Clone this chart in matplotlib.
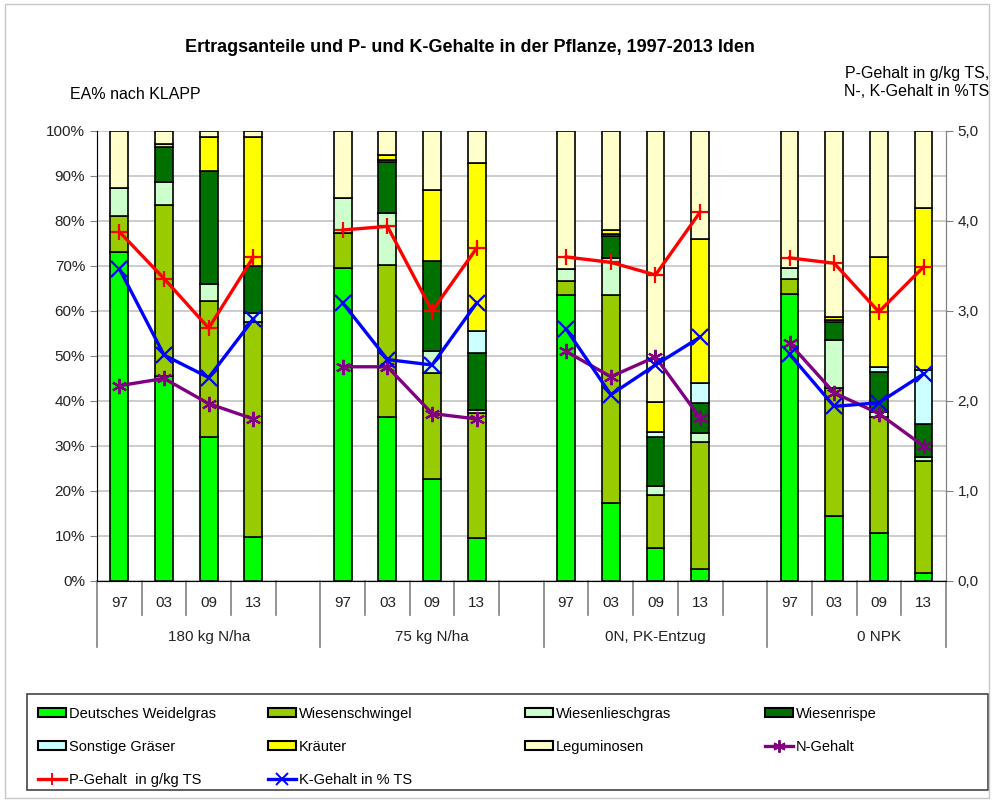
import numpy as np
import matplotlib.pyplot as plt
from matplotlib.patches import Rectangle
from matplotlib.lines import Line2D

plt.rcParams['font.family'] = ['Liberation Sans', 'DejaVu Sans']

# groups and years on the category axis
groups = ['180 kg N/ha', '75 kg N/ha', '0N, PK-Entzug', '0 NPK']
years = ['97', '03', '09', '13']

# yield shares in % (EA nach KLAPP), 16 bars: group by group, year by year
weidelgras = [73.0, 45.5, 32.0, 9.7, 69.5, 36.5, 22.6, 9.6, 63.6, 17.4, 7.4, 2.7, 63.8, 14.4, 10.6, 1.7]
schwingel = [8.0, 38.1, 30.2, 47.9, 7.9, 33.7, 23.7, 27.8, 3.1, 46.2, 11.7, 28.1, 3.2, 28.4, 25.9, 25.0]
lieschgras = [6.4, 5.1, 3.9, 1.9, 7.6, 11.6, 4.7, 0.6, 2.6, 8.1, 2.0, 2.0, 2.5, 10.8, 1.0, 0.8]
rispe = [0.0, 7.8, 24.9, 10.5, 0.0, 11.2, 20.1, 12.7, 0.0, 5.0, 11.0, 6.8, 0.0, 4.0, 9.0, 7.4]
sonstige = [0.0, 0.0, 0.0, 0.0, 0.0, 0.5, 0.0, 4.9, 0.0, 0.3, 0.9, 4.3, 0.0, 0.3, 1.0, 12.0]
kraeuter = [0.0, 0.5, 7.7, 28.7, 0.0, 1.2, 15.8, 37.2, 0.0, 1.0, 6.8, 32.0, 0.0, 0.8, 24.6, 35.9]
legumin = [12.6, 3.0, 1.3, 1.3, 15.0, 5.3, 13.1, 7.2, 30.7, 22.0, 60.2, 24.1, 30.5, 41.3, 27.9, 17.2]

# contents (right axis)
p_gehalt = [3.88, 3.36, 2.81, 3.60, 3.90, 3.94, 3.00, 3.70, 3.60, 3.54, 3.40, 4.10, 3.59, 3.53, 2.99, 3.49]
k_gehalt = [3.47, 2.51, 2.26, 2.91, 3.09, 2.46, 2.40, 3.09, 2.80, 2.07, 2.40, 2.71, 2.52, 1.94, 1.98, 2.30]
n_gehalt = [2.17, 2.25, 1.97, 1.80, 2.38, 2.38, 1.86, 1.80, 2.55, 2.27, 2.49, 1.81, 2.64, 2.09, 1.86, 1.50]

species = [
    ('Deutsches Weidelgras', weidelgras, '#00ff00'),
    ('Wiesenschwingel', schwingel, '#99cc00'),
    ('Wiesenlieschgras', lieschgras, '#ccffcc'),
    ('Wiesenrispe', rispe, '#007000'),
    ('Sonstige Gräser', sonstige, '#ccffff'),
    ('Kräuter', kraeuter, '#ffff00'),
    ('Leguminosen', legumin, '#ffffcc'),
]

# slot positions: 5 slots per group (4 bars + 1 empty)
x = np.array([g * 5 + b for g in range(len(groups)) for b in range(len(years))])

fig = plt.figure(figsize=(9.94, 8.02), dpi=100)
ax = fig.add_axes([0.0976, 0.2756, 0.854, 0.5611])

bottom = np.zeros(len(x))
for name, vals, col in species:
    ax.bar(x, vals, width=0.4, bottom=bottom, color=col, edgecolor='black', lw=1.2, zorder=2)
    bottom += np.array(vals)

ax.set_xlim(-0.5, 18.5)
ax.set_ylim(0, 100)
ax.set_yticks(np.arange(0, 101, 10))
ax.set_yticklabels([f'{v}%' for v in range(0, 101, 10)], fontsize=11)
ax.yaxis.grid(True, color='#c4c4c4', lw=1.2, zorder=0)
ax.set_axisbelow(True)
ax.set_xticks([])
ax.spines['top'].set_visible(False)
for s in ['left', 'right', 'bottom']:
    ax.spines[s].set_color('#808080')
ax.tick_params(axis='y', colors='#808080', labelcolor='#222222', length=5)

ax2 = ax.twinx()
ax2.set_ylim(0, 5)
ax2.set_yticks(np.arange(0, 5.01, 1))
ax2.set_yticklabels([f'{v:.1f}'.replace('.', ',') for v in np.arange(0, 5.01, 1)], fontsize=11)
ax2.tick_params(axis='y', colors='#808080', labelcolor='#222222', length=5)
ax2.spines['top'].set_visible(False)
ax2.spines['right'].set_color('#808080')

line_specs = [
    ('N-Gehalt', n_gehalt, '#800080', (6, 2, 0)),
    ('P-Gehalt  in g/kg TS', p_gehalt, '#ff0000', '+'),
    ('K-Gehalt in % TS', k_gehalt, '#0000ff', 'x'),
]
for name, vals, col, mk in line_specs:
    for g in range(len(groups)):
        sl = slice(g * 4, g * 4 + 4)
        ax2.plot(x[sl], vals[sl], color=col, lw=2.4, marker=mk, ms=11, mew=1.6, zorder=3)

# category axis below the plot
tr = ax.get_xaxis_transform()
for k in range(19):
    g, b = divmod(k, 5)
    if b < 4:
        ax.text(k, -0.049, years[b], transform=tr, ha='center', va='center', fontsize=11, color='#222222')
for k in range(1, 19):
    if k % 5 != 0:
        ax.plot([k - 0.5, k - 0.5], [0, -0.075], transform=tr, color='#808080', lw=1.2, clip_on=False)
for xe in [-0.5, 4.5, 9.5, 14.5, 18.5]:
    ax.plot([xe, xe], [0, -0.147], transform=tr, color='#808080', lw=1.2, clip_on=False)
for g, name in enumerate(groups):
    ax.text(g * 5 + 2.0, -0.124, name, transform=tr, ha='center', va='center', fontsize=11, color='#222222')

fig.text(0.473, 0.941, 'Ertragsanteile und P- und K-Gehalte in der Pflanze, 1997-2013 Iden',
         ha='center', va='center', fontsize=13, fontweight='bold')
fig.text(0.07, 0.882, 'EA% nach KLAPP', ha='left', va='center', fontsize=11.5)
fig.text(0.995, 0.897, 'P-Gehalt in g/kg TS,\nN-, K-Gehalt in %TS', ha='right', va='center',
         fontsize=11.5, linespacing=1.25)

# legend: frame drawn separately, four single-column legends
fig.patches.append(Rectangle((27 / 994, 12 / 802), 961 / 994, 96 / 802, transform=fig.transFigure,
                             fill=False, edgecolor='#444444', lw=1.2))
handles = {}
for name, vals, col in species:
    handles[name] = Rectangle((0, 0), 1, 1, facecolor=col, edgecolor='black', lw=1.5)
for name, vals, col, mk in line_specs:
    handles[name] = Line2D([], [], color=col, lw=2.4, marker=mk, ms=9, mew=1.4)
columns = [
    (38, ['Deutsches Weidelgras', 'Sonstige Gräser', 'P-Gehalt  in g/kg TS']),
    (268, ['Wiesenschwingel', 'Kräuter', 'K-Gehalt in % TS']),
    (525, ['Wiesenlieschgras', 'Leguminosen']),
    (765, ['Wiesenrispe', 'N-Gehalt']),
]
for xpos, names in columns:
    fig.legend([handles[n] for n in names], names, loc='upper left',
               bbox_to_anchor=(xpos / 994, 1 - 707 / 802), borderaxespad=0, borderpad=0,
               frameon=False, fontsize=10.5, handlelength=1.9, handleheight=0.6,
               handletextpad=0.2, labelspacing=1.3)

fig.patches.append(Rectangle((0.005, 0.005), 0.99, 0.99, transform=fig.transFigure,
                             fill=False, edgecolor='#c8c8c8', lw=1))

plt.savefig('out.png', dpi=100)
